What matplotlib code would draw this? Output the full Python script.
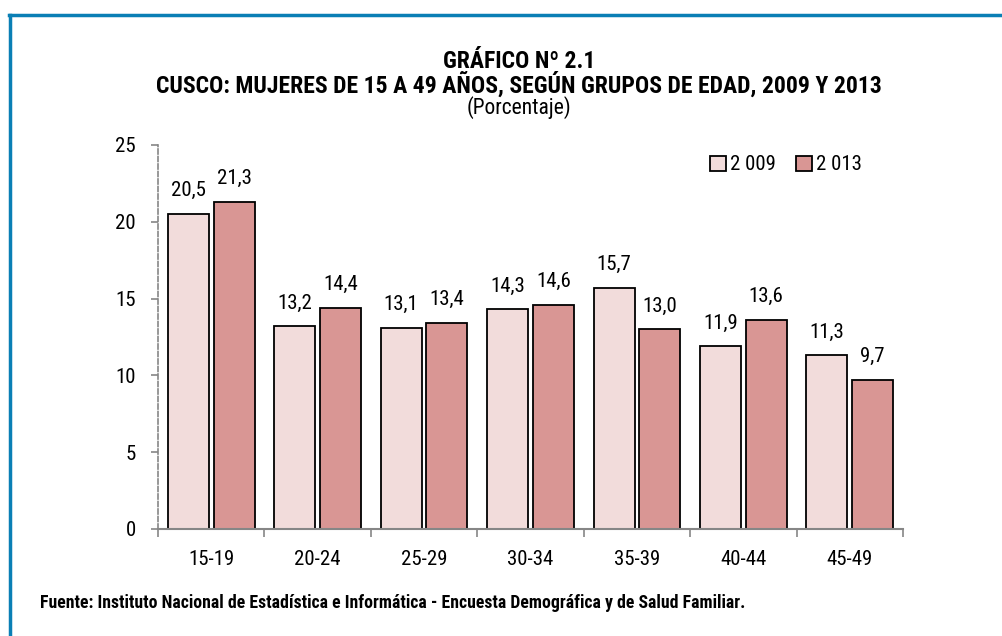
import matplotlib
matplotlib.use('Agg')
from matplotlib import pyplot as plt
from matplotlib.lines import Line2D
import numpy as np

grupos = ['15-19', '20-24', '25-29', '30-34', '35-39', '40-44', '45-49']
valores_2009 = [20.5, 13.2, 13.1, 14.3, 15.7, 11.9, 11.3]
valores_2013 = [21.3, 14.4, 13.4, 14.6, 13.0, 13.6, 9.7]
series = ['2 009', '2 013']
y_ticks = [0, 5, 10, 15, 20, 25]

# narrow font, close to Arial Narrow
plt.rcParams['font.family'] = ['Roboto Condensed', 'Archivo Narrow', 'DejaVu Sans']

W, H = 1002, 636
fig = plt.figure(figsize=(W / 100, H / 100), dpi=100)
ax = fig.add_axes([158 / W, 1 - 529 / H, (903 - 158) / W, (529 - 145) / H])

x = np.arange(len(grupos))
w = 0.385
b1 = ax.bar(x - w / 2 - 0.022, valores_2009, w, color='#f2dcdb', edgecolor='black', linewidth=1.3, label=series[0])
b2 = ax.bar(x + w / 2 + 0.022, valores_2013, w, color='#d99694', edgecolor='black', linewidth=1.3, label=series[1])

for bars, vals in ((b1, valores_2009), (b2, valores_2013)):
    for r, v in zip(bars, vals):
        ax.text(r.get_x() + r.get_width() / 2, v + 0.9, '{:.1f}'.format(v).replace('.', ','),
                ha='center', va='bottom', fontsize=15)

ax.set_xlim(-0.5, len(grupos) - 0.5)
ax.set_ylim(0, 25)
ax.set_yticks(y_ticks)
ax.set_yticklabels([str(t) for t in y_ticks], fontsize=15)
ax.set_xticks(x)
ax.set_xticklabels(grupos, fontsize=15)
ax.tick_params(axis='x', length=0, pad=15)
ax.tick_params(axis='y', length=5, color='#868686', width=1.2, pad=11)
# category boundary ticks
ax.set_xticks(np.arange(len(grupos) + 1) - 0.5, minor=True)
ax.tick_params(axis='x', which='minor', length=6, color='#868686', width=1.2)

for s in ('top', 'right'):
    ax.spines[s].set_visible(False)
ax.spines['bottom'].set_color('#868686')
ax.spines['bottom'].set_linewidth(1.5)
ax.spines['left'].set_color('#868686')
ax.spines['left'].set_linewidth(1.2)
ax.spines['left'].set_linestyle((0, (3, 1.5)))

ax.legend(loc='center left', bbox_to_anchor=((710 - 158) / (903 - 158), (529 - 165) / (529 - 145)),
          ncol=2, frameon=False, fontsize=15, handlelength=0.75, handleheight=0.75,
          handletextpad=0.2, columnspacing=1.0, borderaxespad=0, borderpad=0)

cx = 519 / W
fig.text(cx, 1 - 61 / H, 'GRÁFICO Nº 2.1', ha='center', va='center', fontsize=17, fontweight='bold')
fig.text(cx, 1 - 85 / H, 'CUSCO: MUJERES DE 15 A 49 AÑOS, SEGÚN GRUPOS DE EDAD, 2009 Y 2013',
         ha='center', va='center', fontsize=17, fontweight='bold')
fig.text(cx, 1 - 108 / H, '(Porcentaje)', ha='center', va='center', fontsize=15.5)
fig.text(40 / W, 1 - 603 / H,
         'Fuente: Instituto Nacional de Estadística e Informática - Encuesta Demográfica y de Salud Familiar.',
         ha='left', va='center', fontsize=12.8, fontweight='bold')

# blue frame (top and left)
fig.add_artist(Line2D([8.5 / W, 1], [1 - 14.5 / H, 1 - 14.5 / H], transform=fig.transFigure,
                      color='#0a7fb5', linewidth=2.5))
fig.add_artist(Line2D([9.5 / W, 9.5 / W], [0, 1 - 14.5 / H], transform=fig.transFigure,
                      color='#0a7fb5', linewidth=2.5))

fig.savefig('out.png', dpi=100)
